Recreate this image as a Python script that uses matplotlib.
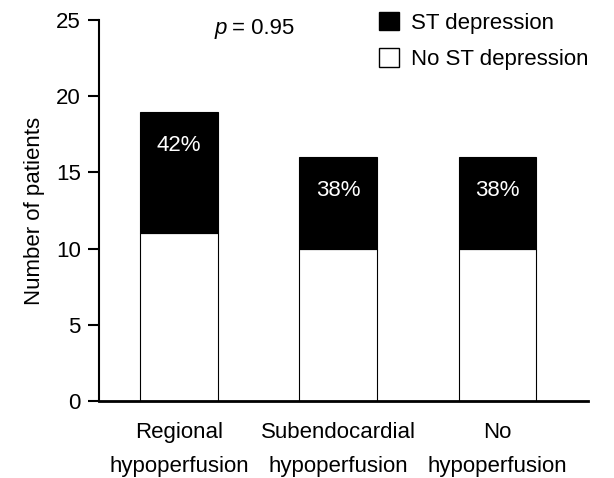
import numpy as np
import matplotlib
matplotlib.use('agg')
import matplotlib.pyplot as plt
import matplotlib.patches as mpatches

plt.rcParams['font.family'] = ['Liberation Sans', 'DejaVu Sans']

# data
categories = ['Regional\nhypoperfusion', 'Subendocardial\nhypoperfusion', 'No\nhypoperfusion']
no_st = [11, 10, 10]
st_dep = [8, 6, 6]
p_text = '= 0.95'

fs = 16

fig = plt.figure(figsize=(6.14, 4.78), dpi=100)
ax = fig.add_axes([0.161, 0.161, 0.797, 0.797])

x = np.arange(len(categories))
w = 0.49
ax.bar(x, no_st, w, color='white', edgecolor='black', linewidth=0.8)
ax.bar(x, st_dep, w, bottom=no_st, color='black', edgecolor='black', linewidth=0.8)

for xi, a, b in zip(x, no_st, st_dep):
    tot = a + b
    ax.text(xi, tot - 2.2, f'{100 * b / tot:.0f}%', color='white', ha='center', va='center', fontsize=fs)

ax.set_xlim(-0.505, 2.57)
ax.set_ylim(0, 25)
ax.set_yticks([0, 5, 10, 15, 20, 25])
ax.set_xticks(x)
ax.set_xticklabels(categories, fontsize=fs, linespacing=1.85)
ax.tick_params(axis='x', length=0, pad=15)
ax.tick_params(axis='y', length=8, width=1.5, labelsize=fs, pad=5)
for s in ['top', 'right']:
    ax.spines[s].set_visible(False)
ax.spines['left'].set_linewidth(1.5)
ax.spines['bottom'].set_linewidth(2)
ax.set_ylabel('Number of patients', fontsize=fs, labelpad=8)

ax.text(0.237, 0.978, 'p', transform=ax.transAxes, ha='left', va='center', fontsize=fs, style='italic')
ax.text(0.273, 0.978, p_text, transform=ax.transAxes, ha='left', va='center', fontsize=fs)

handles = [mpatches.Patch(facecolor='black', edgecolor='black', label='ST depression'),
           mpatches.Patch(facecolor='white', edgecolor='black', label='No ST depression')]
fig.legend(handles=handles, loc='upper left', bbox_to_anchor=(0.617, 0.975), frameon=False,
           borderpad=0, borderaxespad=0,
           fontsize=fs, handlelength=0.9, handleheight=0.9, handletextpad=0.55, labelspacing=0.65)

fig.savefig('out.png', dpi=100)
plt.close(fig)
